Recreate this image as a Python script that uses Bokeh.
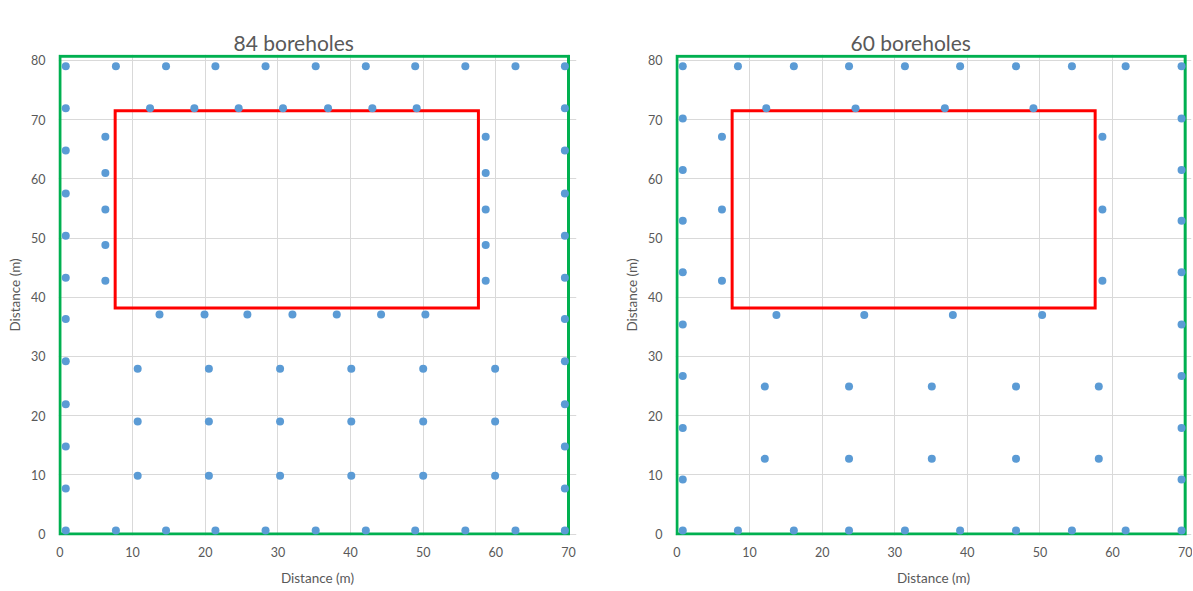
from bokeh.plotting import figure
from bokeh.layouts import row
from bokeh.models import Range1d, FixedTicker, Title
from bokeh.embed import file_html
from bokeh.resources import INLINE

# ---------------- shared texts / ticks ----------------
titles = ["84 boreholes", "60 boreholes"]
axis_title = "Distance (m)"
x_ticks = [0, 10, 20, 30, 40, 50, 60, 70]
y_ticks = [0, 10, 20, 30, 40, 50, 60, 70, 80]

# outer boundary (green) and building footprint (red), shared by both charts
site_x = [0, 70]
site_y = [0, 80.7]
building_x = [7.6, 57.6]
building_y = [38.2, 71.5]

# ---------------- data: 84 boreholes ----------------
a_edge_row_x = [0.8, 7.7, 14.6, 21.4, 28.3, 35.2, 42.1, 48.9, 55.8, 62.7, 69.5]
a_edge_row_y = [0.6, 79.0]
a_edge_col_x = [0.8, 69.5]
a_edge_col_y = [7.7, 14.8, 21.9, 29.2, 36.3, 43.3, 50.4, 57.5, 64.8, 71.9]
a_bldg_top_x = [12.4, 18.5, 24.6, 30.7, 36.9, 43.0, 49.1]
a_bldg_top_y = 71.9
a_bldg_bot_x = [13.7, 19.9, 25.8, 32.0, 38.1, 44.2, 50.3]
a_bldg_bot_y = 37.1
a_bldg_side_x = [6.25, 58.6]
a_bldg_side_y = [42.8, 48.8, 54.8, 61.0, 67.1]
a_inner_x = [10.7, 20.5, 30.3, 40.1, 50.0, 59.9]
a_inner_y = [9.85, 19.0, 27.9]

# ---------------- data: 60 boreholes ----------------
b_edge_row_x = [0.8, 8.4, 16.1, 23.7, 31.4, 39.0, 46.7, 54.4, 61.8, 69.5]
b_edge_row_y = [0.6, 79.0]
b_edge_col_x = [0.8, 69.5]
b_edge_col_y = [9.2, 17.9, 26.7, 35.4, 44.2, 52.9, 61.5, 70.2]
b_bldg_top_x = [12.3, 24.6, 36.9, 49.1]
b_bldg_top_y = 71.9
b_bldg_bot_x = [13.7, 25.8, 38.0, 50.3]
b_bldg_bot_y = 37.0
b_bldg_side_x = [6.2, 58.6]
b_bldg_side_y = [42.8, 54.8, 67.1]
b_inner_x = [12.1, 23.7, 35.1, 46.7, 58.1]
b_inner_y = [12.7, 24.9]


def collect(edge_row_x, edge_row_y, edge_col_x, edge_col_y,
            top_x, top_y, bot_x, bot_y, side_x, side_y, inner_x, inner_y):
    xs, ys = [], []
    for yy in edge_row_y:
        for xx in edge_row_x:
            xs.append(xx); ys.append(yy)
    for xx in edge_col_x:
        for yy in edge_col_y:
            xs.append(xx); ys.append(yy)
    for xx in top_x:
        xs.append(xx); ys.append(top_y)
    for xx in bot_x:
        xs.append(xx); ys.append(bot_y)
    for xx in side_x:
        for yy in side_y:
            xs.append(xx); ys.append(yy)
    for yy in inner_y:
        for xx in inner_x:
            xs.append(xx); ys.append(yy)
    return xs, ys


pts_a = collect(a_edge_row_x, a_edge_row_y, a_edge_col_x, a_edge_col_y,
                a_bldg_top_x, a_bldg_top_y, a_bldg_bot_x, a_bldg_bot_y,
                a_bldg_side_x, a_bldg_side_y, a_inner_x, a_inner_y)
pts_b = collect(b_edge_row_x, b_edge_row_y, b_edge_col_x, b_edge_col_y,
                b_bldg_top_x, b_bldg_top_y, b_bldg_bot_x, b_bldg_bot_y,
                b_bldg_side_x, b_bldg_side_y, b_inner_x, b_inner_y)

FONT = "Lato"
TXT = "#595959"


def make(title, pts, width, x_end, border_left, border_right):
    p = figure(width=width, height=589, output_backend="svg", toolbar_location=None,
               x_range=Range1d(-0.2, x_end), y_range=Range1d(-0.25, 81.0),
               min_border_left=border_left, min_border_right=border_right,
               min_border_top=54, min_border_bottom=54, title=None)
    p.add_layout(Title(text=title, align="left", offset=175, standoff=0,
                       text_font=FONT, text_font_size="21px",
                       text_font_style="normal", text_color=TXT), "above")
    # blank spacer between the title and the plot area
    p.add_layout(Title(text=" ", text_font_size="10px", standoff=13,
                       text_color=None), "above")
    p.outline_line_color = None
    p.background_fill_color = "white"
    p.border_fill_color = "white"
    for ax in (p.xaxis[0], p.yaxis[0]):
        ax.axis_line_color = None
        ax.major_tick_line_color = None
        ax.minor_tick_line_color = None
        ax.major_tick_out = 0
        ax.major_tick_in = 0
        ax.minor_tick_out = 0
        ax.minor_tick_in = 0
        ax.major_label_text_font = FONT
        ax.major_label_text_font_size = "12.5px"
        ax.major_label_text_color = TXT
        ax.axis_label = axis_title
        ax.axis_label_text_font = FONT
        ax.axis_label_text_font_size = "13.5px"
        ax.axis_label_text_font_style = "normal"
        ax.axis_label_text_color = TXT
    p.xaxis[0].major_label_standoff = 11
    p.xaxis[0].axis_label_standoff = 10
    p.yaxis[0].major_label_standoff = 13
    p.yaxis[0].axis_label_standoff = 5
    p.xaxis[0].ticker = FixedTicker(ticks=x_ticks)
    p.yaxis[0].ticker = FixedTicker(ticks=y_ticks)
    p.xgrid.grid_line_color = "#D9D9D9"
    p.ygrid.grid_line_color = "#D9D9D9"
    p.xgrid.ticker = FixedTicker(ticks=x_ticks)
    p.ygrid.ticker = FixedTicker(ticks=y_ticks)

    p.quad(left=[site_x[0]], right=[site_x[1]], bottom=[site_y[0]], top=[site_y[1]],
           fill_color=None, line_color="#00B050", line_width=3, line_join="miter")
    p.quad(left=[building_x[0]], right=[building_x[1]], bottom=[building_y[0]],
           top=[building_y[1]], fill_color=None, line_color="#FF0000", line_width=3,
           line_join="miter")
    p.scatter(pts[0], pts[1], size=8, fill_color="#5B9BD5", line_color=None)
    return p


p1 = make(titles[0], pts_a, 600, 71.1, 58, 24)
p2 = make(titles[1], pts_b, 592, 70.87, 75, 1)

layout = row(p1, p2)
open("out.html", "w").write(file_html(layout, INLINE))
